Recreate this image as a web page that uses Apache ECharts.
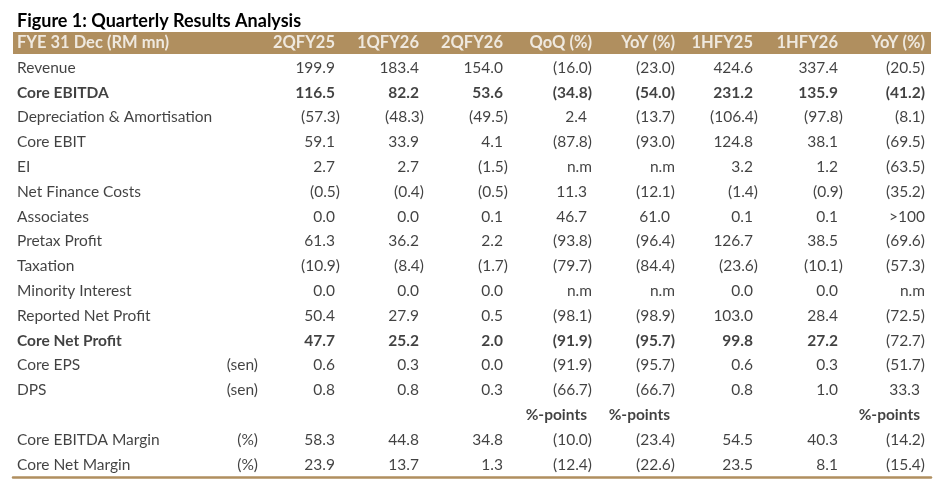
<!DOCTYPE html>
<html>
<head>
<meta charset="utf-8">
<script src="https://cdn.jsdelivr.net/npm/echarts@6/dist/echarts.min.js"></script>
<style>
html,body{margin:0;padding:0;background:#fff;}
#chart{width:948px;height:498px;}
</style>
</head>
<body>
<div id="chart"></div>
<script>
// ---------- data ----------
const title = 'Figure 1: Quarterly Results Analysis';
const headers = ['FYE 31 Dec (RM mn)', '2QFY25', '1QFY26', '2QFY26', 'QoQ (%)', 'YoY (%)', '1HFY25', '1HFY26', 'YoY (%)'];
const rowLabels = ['Revenue', 'Core EBITDA', 'Depreciation & Amortisation', 'Core EBIT', 'EI', 'Net Finance Costs',
  'Associates', 'Pretax Profit', 'Taxation', 'Minority Interest', 'Reported Net Profit', 'Core Net Profit',
  'Core EPS', 'DPS', '', 'Core EBITDA Margin', 'Core Net Margin'];
const units = ['', '', '', '', '', '', '', '', '', '', '', '', '(sen)', '(sen)', '', '(%)', '(%)'];
const q2fy25 = [199.9, 116.5, -57.3, 59.1, 2.7, -0.5, 0.0, 61.3, -10.9, 0.0, 50.4, 47.7, 0.6, 0.8, null, 58.3, 23.9];
const q1fy26 = [183.4, 82.2, -48.3, 33.9, 2.7, -0.4, 0.0, 36.2, -8.4, 0.0, 27.9, 25.2, 0.3, 0.8, null, 44.8, 13.7];
const q2fy26 = [154.0, 53.6, -49.5, 4.1, -1.5, -0.5, 0.1, 2.2, -1.7, 0.0, 0.5, 2.0, 0.0, 0.3, null, 34.8, 1.3];
const qoq = [-16.0, -34.8, 2.4, -87.8, 'n.m', 11.3, 46.7, -93.8, -79.7, 'n.m', -98.1, -91.9, -91.9, -66.7, '%-points', -10.0, -12.4];
const yoyQ = [-23.0, -54.0, -13.7, -93.0, 'n.m', -12.1, 61.0, -96.4, -84.4, 'n.m', -98.9, -95.7, -95.7, -66.7, '%-points', -23.4, -22.6];
const h1fy25 = [424.6, 231.2, -106.4, 124.8, 3.2, -1.4, 0.1, 126.7, -23.6, 0.0, 103.0, 99.8, 0.6, 0.8, null, 54.5, 23.5];
const h1fy26 = [337.4, 135.9, -97.8, 38.1, 1.2, -0.9, 0.1, 38.5, -10.1, 0.0, 28.4, 27.2, 0.3, 1.0, null, 40.3, 8.1];
const yoyH = [-20.5, -41.2, -8.1, -69.5, -63.5, -35.2, '>100', -69.6, -57.3, 'n.m', -72.5, -72.7, -51.7, 33.3, '%-points', -14.2, -15.4];
const columns = [q2fy25, q1fy26, q2fy26, qoq, yoyQ, h1fy25, h1fy26, yoyH];

// ---------- layout / style ----------
const FONT = 'Lato, "Open Sans", sans-serif';
const BROWN = '#B08F5F';
const TEXT = '#111111';
const tableLeft = 13, tableRight = 931;
const labelX = 17, unitX = 258;
const colX = [340, 424, 508, 592, 675, 758, 843, 925];
const hang = 5;
const boldRows = [1, 11];
const BODY_SIZE = 15.5, HEAD_SIZE = 16.5, TITLE_SIZE = 18;

function fmt(v) {
  if (v === null || v === undefined) return '';
  if (typeof v === 'string') return v;
  return v < 0 ? '(' + Math.abs(v).toFixed(1) + ')' : v.toFixed(1);
}
function hangs(t) { return !/\)$/.test(t) && t !== 'n.m' && t !== '>100'; }

const nRows = rowLabels.length + 1;
const cats = Array.from({length: nRows}, (_, i) => String(i));

function cell(x, row, text, align, weight, color, off, size) {
  return {
    value: [x, String(row)],
    label: {
      show: true, formatter: text === '' ? ' ' : text, position: 'inside',
      align: align, verticalAlign: 'middle', offset: [off || 0, 0],
      fontWeight: weight, color: color, fontSize: size || BODY_SIZE, fontFamily: FONT
    }
  };
}

const textSeries = [];
// header texts
const hdrData = [cell(labelX, 0, headers[0], 'left', 'bold', '#fff', 0, HEAD_SIZE)];
headers.slice(1).forEach((h, c) => {
  hdrData.push(cell(colX[c], 0, h, 'right', 'bold', '#fff', hangs(h) ? -hang : 0, HEAD_SIZE));
});
textSeries.push(hdrData);
// row labels + units
textSeries.push(rowLabels.map((l, r) => cell(labelX, r + 1, l, 'left', boldRows.includes(r) ? 'bold' : 'normal', TEXT, 0)));
textSeries.push(units.map((u, r) => cell(unitX, r + 1, u, 'right', 'normal', TEXT, 0)));
// value columns
columns.forEach((col, c) => {
  textSeries.push(col.map((v, r) => {
    const t = fmt(v);
    let bold = boldRows.includes(r) && !(c === columns.length - 1 && r === 11);
    if (t === '%-points') bold = true;
    return cell(colX[c], r + 1, t, 'right', bold ? 'bold' : 'normal', TEXT, hangs(t) ? -hang : 0);
  }));
});

const series = [{
  type: 'bar',
  data: [[tableRight, '0']],
  barWidth: 22,
  itemStyle: {color: BROWN},
  clip: true,
  silent: true
}].concat(textSeries.map(d => ({
  type: 'scatter',
  data: d,
  symbolSize: 1,
  itemStyle: {color: 'transparent'},
  silent: true
})));

const chart = echarts.init(document.getElementById('chart'), null, {renderer: 'canvas'});
chart.setOption({
  animation: false,
  backgroundColor: '#fff',
  title: {
    text: title, left: 12, top: 7,
    textStyle: {fontSize: TITLE_SIZE, fontWeight: 'bold', color: '#000', fontFamily: FONT}
  },
  grid: {left: tableLeft, right: 948 - tableRight, top: 30.6, bottom: 21, containLabel: false},
  xAxis: {
    type: 'value', min: tableLeft, max: tableRight,
    axisLine: {show: true, onZero: false, lineStyle: {color: BROWN, width: 2.5}},
    axisTick: {show: false}, axisLabel: {show: false}, splitLine: {show: false}
  },
  yAxis: {
    type: 'category', data: cats, inverse: true,
    axisLine: {show: false}, axisTick: {show: false}, axisLabel: {show: false}, splitLine: {show: false}
  },
  series: series
});
</script>
</body>
</html>
